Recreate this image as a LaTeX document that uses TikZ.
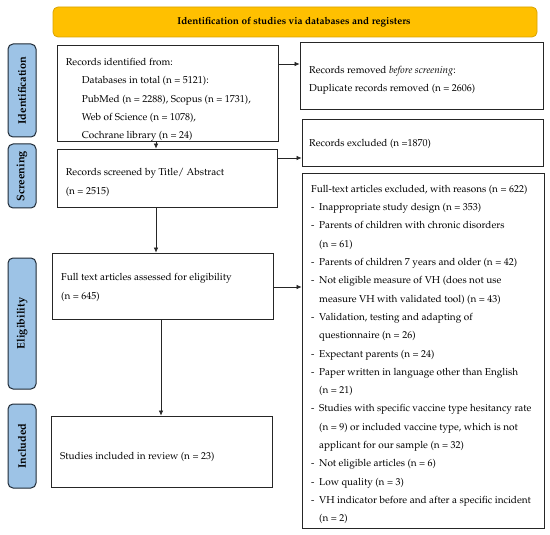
\documentclass[tikz,border=0pt]{standalone}
\usepackage[T1]{fontenc}
\usepackage{mathpazo}
\usetikzlibrary{fit,arrows.meta}
\definecolor{bannerfill}{HTML}{FFC000}
\definecolor{bannerline}{HTML}{D9A300}
\definecolor{sidefill}{HTML}{9DC3E6}
\definecolor{sideline}{HTML}{1F2A36}
\definecolor{boxline}{HTML}{262626}
\newcommand{\dashitem}{\makebox[8pt][l]{-}}
\newcommand{\contline}{\hspace*{8pt}}
\begin{document}
\begin{tikzpicture}[x=1pt,y=-1pt,
 box/.style={draw=boxline, line width=0.9pt, inner sep=0pt, fill=white},
 sidelbl/.style={draw=sideline, line width=1pt, fill=sidefill, rounded corners=5pt, inner sep=0pt},
 txt/.style={inner sep=0pt, align=left, anchor=west, font=\fontsize{10}{18.3}\selectfont},
 arr/.style={-{Latex[length=5pt,width=4.5pt]}, line width=0.6pt, draw=boxline},
 lbltxt/.style={rotate=90, inner sep=0pt, font=\fontsize{11}{12}\selectfont\bfseries}
]
\useasboundingbox (0,0) rectangle (550,535);
\fill[white] (0,0) rectangle (550,535);

% banner
\node[draw=bannerline, fill=bannerfill, rounded corners=5pt, line width=0.8pt, inner sep=0pt, fit={(53,7)(537,37)}] (banner) {};
\node[inner sep=0pt, font=\fontsize{10}{12}\selectfont\bfseries] (bannertext) at (294,22) {Identification of studies via databases and registers};

% side labels
\node[sidelbl, fit={(8,44)(36,137)}] (sideI) {};
\node[lbltxt] (sideItxt) at (sideI.center) {Identification};
\node[sidelbl, fit={(8,144)(36,208)}] (sideS) {};
\node[lbltxt] (sideStxt) at (sideS.center) {Screening};
\node[sidelbl, fit={(8,258)(36,389)}] (sideE) {};
\node[lbltxt] (sideEtxt) at (sideE.center) {Eligibility};
\node[sidelbl, fit={(8,404)(36,488)}] (sideN) {};
\node[lbltxt] (sideNtxt) at (sideN.center) {Included};

% boxes
\node[box, fit={(57,45)(278,141)}] (ident) {};
\node[box, fit={(300,42)(543,109)}] (removed) {};
\node[box, fit={(302,119)(543,166)}] (excluded) {};
\node[box, fit={(57,149)(277,207)}] (screened) {};
\node[box, fit={(302,173)(544,528)}] (ftexcl) {};
\node[box, fit={(52,253)(273,319)}] (fulltext) {};
\node[box, fit={(51,416)(272,487)}] (studies) {};

% texts
\node[txt] (identtxt) at (65.6,100) {Records identified from:\\
\hspace*{16pt}Databases in total (n = 5121):\\
\hspace*{16pt}PubMed (n = 2288), Scopus (n = 1731),\\
\hspace*{16pt}Web of Science (n = 1078),\\
\hspace*{16pt}Cochrane library (n = 24)};
\node[txt] (removedtxt) at (309,80.5) {Records removed \textit{before screening}:\\
Duplicate records removed (n = 2606)};
\node[txt] (excludedtxt) at (309,144) {Records excluded (n =1870)};
\node[txt] (screenedtxt) at (65.6,182.5) {Records screened by Title/ Abstract\\
(n = 2515)};
\node[txt] (fulltexttxt) at (61,287.5) {Full text articles assessed for eligibility\\
(n = 645)};
\node[txt] (studiestxt) at (60,457) {Studies included in review (n = 23)};
\node[txt] (ftexcltxt) at (311,354.5) {Full-text articles excluded, with reasons (n = 622)\\
\dashitem Inappropriate study design (n = 353)\\
\dashitem Parents of children with chronic disorders\\
\contline (n = 61)\\
\dashitem Parents of children 7 years and older (n = 42)\\
\dashitem Not eligible measure of VH (does not use\\
\contline measure VH with validated tool) (n = 43)\\
\dashitem Validation, testing and adapting of\\
\contline questionnaire (n = 26)\\
\dashitem Expectant parents (n = 24)\\
\dashitem Paper written in language other than English\\
\contline (n = 21)\\
\dashitem Studies with specific vaccine type hesitancy rate\\
\contline (n = 9) or included vaccine type, which is not\\
\contline applicant for our sample (n = 32)\\
\dashitem Not eligible articles (n = 6)\\
\dashitem Low quality (n = 3)\\
\dashitem VH indicator before and after a specific incident\\
\contline (n = 2)};

% connectors
\draw[arr] (ident.east |- 0,64) -- (removed.west |- 0,64);
\draw[arr] (ident.south -| 156,0) -- (screened.north -| 156,0);
\draw[arr] (screened.east |- 0,158) -- (excluded.west |- 0,158);
\draw[arr] (screened.south -| 156,0) -- (fulltext.north -| 156,0);
\draw[arr] (fulltext.east |- 0,287) -- (ftexcl.west |- 0,287);
\draw[arr] (fulltext.south -| 161,0) -- (studies.north -| 161,0);
\end{tikzpicture}
\end{document}
